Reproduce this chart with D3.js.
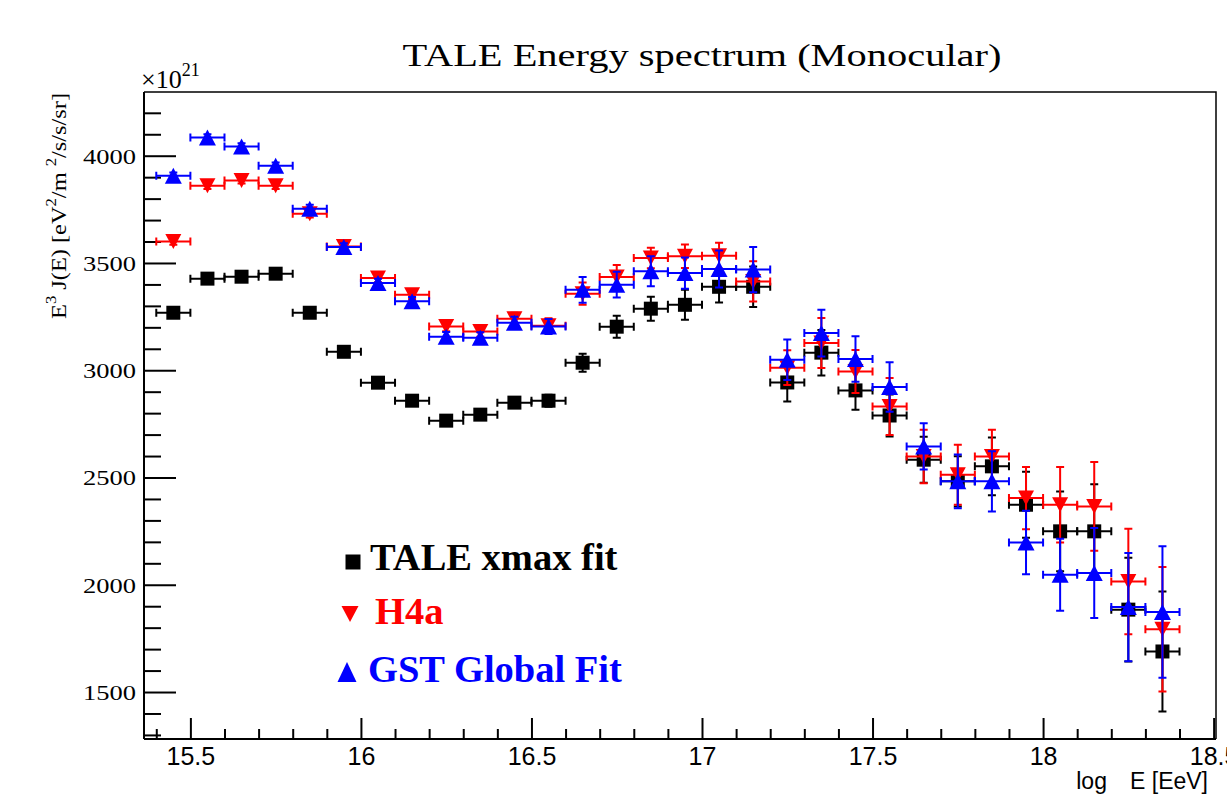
<!DOCTYPE html>
<html>
<head>
<meta charset="utf-8">
<script src="https://cdn.jsdelivr.net/npm/d3@7"></script>
<style>
    body { margin: 0; background: #fff; }
    svg { display: block; }
</style>
</head>
<body>
<div id="spectrum"></div>
<script>
const container_id = 'spectrum';
const width = 1227, height = 794;
const plot = { left: 144, right: 1216, top: 92, bottom: 739 };

// bin centres in log10(E/eV), half width of each bin
const logE = [15.45, 15.55, 15.65, 15.75, 15.85, 15.95, 16.05, 16.15, 16.25, 16.35,
              16.45, 16.55, 16.65, 16.75, 16.85, 16.95, 17.05, 17.15, 17.25, 17.35,
              17.45, 17.55, 17.65, 17.75, 17.85, 17.95, 18.05, 18.15, 18.25, 18.35];
const binHalf = 0.05;

// E^3 J(E) in units of 1e21
const taleFlux = [3268, 3427, 3436, 3450, 3268, 3086, 2942, 2858, 2765, 2793,
                  2849, 2858, 3035, 3203, 3287, 3305, 3389, 3389, 2943, 3082,
                  2906, 2789, 2583, 2482, 2552, 2373, 2249, 2249, 1884, 1689];
const taleErr  = [15, 15, 15, 15, 18, 18, 20, 20, 22, 22,
                  25, 28, 42, 51, 56, 70, 73, 94, 89, 106,
                  90, 98, 107, 117, 135, 154, 186, 219, 242, 280];

const h4aFlux = [3600, 3860, 3885, 3860, 3730, 3577, 3430, 3352, 3204, 3181,
                 3240, 3207, 3357, 3435, 3523, 3531, 3534, 3414, 3012, 3127,
                 2994, 2831, 2598, 2513, 2598, 2404, 2373, 2365, 2015, 1793];
const h4aErr  = [15, 15, 15, 15, 18, 18, 20, 20, 22, 25,
                 28, 35, 52, 55, 48, 55, 60, 94, 81, 117,
                 100, 133, 125, 140, 125, 145, 176, 207, 246, 290];

const gstFlux = [3907, 4085, 4043, 3953, 3753, 3574, 3407, 3321, 3156, 3152,
                 3221, 3204, 3375, 3399, 3461, 3453, 3472, 3469, 3049, 3173,
                 3052, 2922, 2645, 2482, 2482, 2197, 2047, 2055, 1896, 1873];
const gstErr  = [15, 15, 15, 15, 18, 18, 20, 20, 22, 25,
                 28, 35, 60, 60, 70, 73, 86, 106, 94, 109,
                 106, 115, 108, 125, 140, 148, 168, 210, 252, 306];

const xMajorTicks = [15.5, 16, 16.5, 17, 17.5, 18, 18.5];
const xTickLabels = ['15.5', '16', '16.5', '17', '17.5', '18', '18.5'];
const yMajorTicks = [1500, 2000, 2500, 3000, 3500, 4000];

const legendLabels = ['TALE xmax fit', 'H4a', 'GST Global Fit'];

const xScale = d3.scaleLinear().domain([15.364, 18.507]).range([plot.left, plot.right]);
const yScale = d3.scaleLinear().domain([1281, 4297]).range([plot.bottom, plot.top]);

const serif = '"Liberation Serif", "Times New Roman", serif';
const sans = '"Liberation Sans", Arial, Helvetica, sans-serif';

function squarePath(s) {
    return `M${-s / 2},${-s / 2}H${s / 2}V${s / 2}H${-s / 2}Z`;
}
function triUpPath(w, h) {
    return `M0,${-h / 2}L${w / 2},${h / 2}L${-w / 2},${h / 2}Z`;
}
function triDownPath(w, h) {
    return `M0,${h / 2}L${w / 2},${-h / 2}L${-w / 2},${-h / 2}Z`;
}

function drawXAxis(svg) {
    const minor = d3.range(154, 186).map(v => v / 10).filter(v => v > 15.35 && !xMajorTicks.includes(v));

    svg.append('g')
        .attr('class', 'x minor')
        .attr('transform', `translate(0,${plot.bottom})`)
        .call(d3.axisBottom(xScale).tickValues(minor).tickSize(-10).tickSizeOuter(0).tickFormat(''))
        .call(g => g.select('.domain').remove());

    const ax = svg.append('g')
        .attr('class', 'x axis')
        .attr('transform', `translate(0,${plot.bottom})`)
        .call(d3.axisBottom(xScale).tickValues(xMajorTicks).tickSize(-21).tickSizeOuter(0)
            .tickFormat((d, i) => xTickLabels[i]));

    ax.select('.domain').attr('stroke-width', 2).attr('d', `M${plot.left},0H${plot.right}`);
    ax.selectAll('line').attr('stroke-width', 2);
    ax.selectAll('text')
        .attr('y', 26).attr('dy', null)
        .style('font-family', sans).style('font-size', '25px').attr('fill', '#000');
    svg.selectAll('.x.minor line').attr('stroke-width', 2);
}

function drawYAxis(svg) {
    const minor = d3.range(13, 43).map(v => v * 100).filter(v => !yMajorTicks.includes(v));

    svg.append('g')
        .attr('class', 'y minor')
        .attr('transform', `translate(${plot.left},0)`)
        .call(d3.axisLeft(yScale).tickValues(minor).tickSize(-17).tickSizeOuter(0).tickFormat(''))
        .call(g => g.select('.domain').remove())
        .selectAll('line').attr('stroke-width', 2);

    const ax = svg.append('g')
        .attr('class', 'y axis')
        .attr('transform', `translate(${plot.left},0)`)
        .call(d3.axisLeft(yScale).tickValues(yMajorTicks).tickSize(-32).tickSizeOuter(0)
            .tickFormat(d3.format('d')).tickPadding(8));

    ax.select('.domain').attr('stroke-width', 2).attr('d', `M0,${plot.top}V${plot.bottom}`);
    ax.selectAll('line').attr('stroke-width', 2);
    ax.selectAll('text')
        .attr('dy', '0.34em')
        .attr('textLength', 53).attr('lengthAdjust', 'spacingAndGlyphs')
        .style('font-family', serif).style('font-size', '22px').attr('fill', '#000');
}

function drawFrame(svg) {
    svg.append('path')
        .attr('d', `M${plot.left},${plot.top}H${plot.right}V${plot.bottom}`)
        .attr('fill', 'none')
        .attr('stroke', '#000')
        .attr('stroke-width', 1.5);
}

function drawSeries(svg, flux, err, color, shape) {
    const g = svg.append('g').attr('class', 'series');
    const cap = 4;
    const pts = logE.map((x, i) => ({ x: x, y: flux[i], e: err[i] }));

    const bars = g.selectAll('.err').data(pts).enter().append('g')
        .attr('class', 'err')
        .attr('stroke', color)
        .attr('stroke-width', 2)
        .attr('fill', 'none');

    bars.append('path')
        .attr('d', d => {
            const x0 = xScale(d.x - binHalf), x1 = xScale(d.x + binHalf), y = yScale(d.y);
            return `M${x0},${y}H${x1}M${x0},${y - cap}V${y + cap}M${x1},${y - cap}V${y + cap}`;
        });
    bars.append('path')
        .attr('d', d => {
            const x = xScale(d.x), y0 = yScale(d.y - d.e), y1 = yScale(d.y + d.e);
            return `M${x},${y0}V${y1}M${x - cap},${y0}H${x + cap}M${x - cap},${y1}H${x + cap}`;
        });

    g.selectAll('.marker').data(pts).enter().append('path')
        .attr('class', 'marker')
        .attr('transform', d => `translate(${xScale(d.x)},${yScale(d.y)})`)
        .attr('d', shape)
        .attr('fill', color);
}

function drawLegend(svg) {
    const entries = [
        { label: legendLabels[0], color: '#000', shape: squarePath(15), mx: 353, my: 562, tx: 370, ty: 570 },
        { label: legendLabels[1], color: '#ff0000', shape: triDownPath(17, 16), mx: 350, my: 614, tx: 375, ty: 624 },
        { label: legendLabels[2], color: '#0000ff', shape: triUpPath(19, 20), mx: 347, my: 672, tx: 368, ty: 682 }
    ];
    const g = svg.append('g').attr('class', 'legend');
    entries.forEach(e => {
        g.append('path')
            .attr('transform', `translate(${e.mx},${e.my})`)
            .attr('d', e.shape)
            .attr('fill', e.color);
        g.append('text')
            .attr('x', e.tx)
            .attr('y', e.ty)
            .attr('fill', e.color)
            .style('font-family', serif)
            .style('font-weight', 'bold')
            .style('font-size', '38.5px')
            .text(e.label);
    });
}

function drawSpectrum() {
    const svg = d3.select('#' + container_id)
        .append('svg')
        .attr('width', width)
        .attr('height', height);

    svg.append('rect').attr('width', width).attr('height', height).attr('fill', '#fff');

    drawFrame(svg);
    drawXAxis(svg);
    drawYAxis(svg);

    drawSeries(svg, taleFlux, taleErr, '#000', squarePath(14));
    drawSeries(svg, h4aFlux, h4aErr, '#ff0000', triDownPath(16, 15));
    drawSeries(svg, gstFlux, gstErr, '#0000ff', triUpPath(17, 16));

    drawLegend(svg);

    svg.append('text')
        .attr('class', 'title')
        .attr('x', 702)
        .attr('y', 66)
        .attr('text-anchor', 'middle')
        .attr('textLength', 599)
        .attr('lengthAdjust', 'spacingAndGlyphs')
        .style('font-family', serif)
        .style('font-size', '31px')
        .text('TALE Energy spectrum (Monocular)');

    // exponent above the y axis
    const expo = svg.append('text')
        .attr('x', 141)
        .attr('y', 88)
        .style('font-family', serif)
        .style('font-size', '26px');
    expo.append('tspan').text('\u00d710');
    expo.append('tspan').attr('dy', -12).style('font-size', '18px').text('21');

    // y axis title
    const yt = svg.append('text')
        .attr('transform', 'translate(66,93) rotate(-90)')
        .attr('text-anchor', 'end')
        .attr('textLength', 226)
        .attr('lengthAdjust', 'spacingAndGlyphs')
        .style('font-family', serif)
        .style('font-size', '22px');
    yt.append('tspan').text('E');
    yt.append('tspan').attr('dy', -10).style('font-size', '15px').text('3');
    yt.append('tspan').attr('dy', 10).text(' J(E) [eV');
    yt.append('tspan').attr('dy', -10).style('font-size', '15px').text('2');
    yt.append('tspan').attr('dy', 10).text('/m ');
    yt.append('tspan').attr('dy', -10).style('font-size', '15px').text('2');
    yt.append('tspan').attr('dy', 10).text('/s/s/sr]');

    // x axis title (subscript falls off the bottom edge, as in the original)
    const xt = svg.append('text')
        .attr('x', 1208)
        .attr('y', 789)
        .attr('text-anchor', 'end')
        .style('font-family', sans)
        .style('font-size', '23px');
    xt.append('tspan').text('log');
    xt.append('tspan').attr('dy', 16).style('font-size', '15px').text('10');
    xt.append('tspan').attr('dy', -16).text(' E [EeV]');
}

drawSpectrum();
</script>
</body>
</html>
